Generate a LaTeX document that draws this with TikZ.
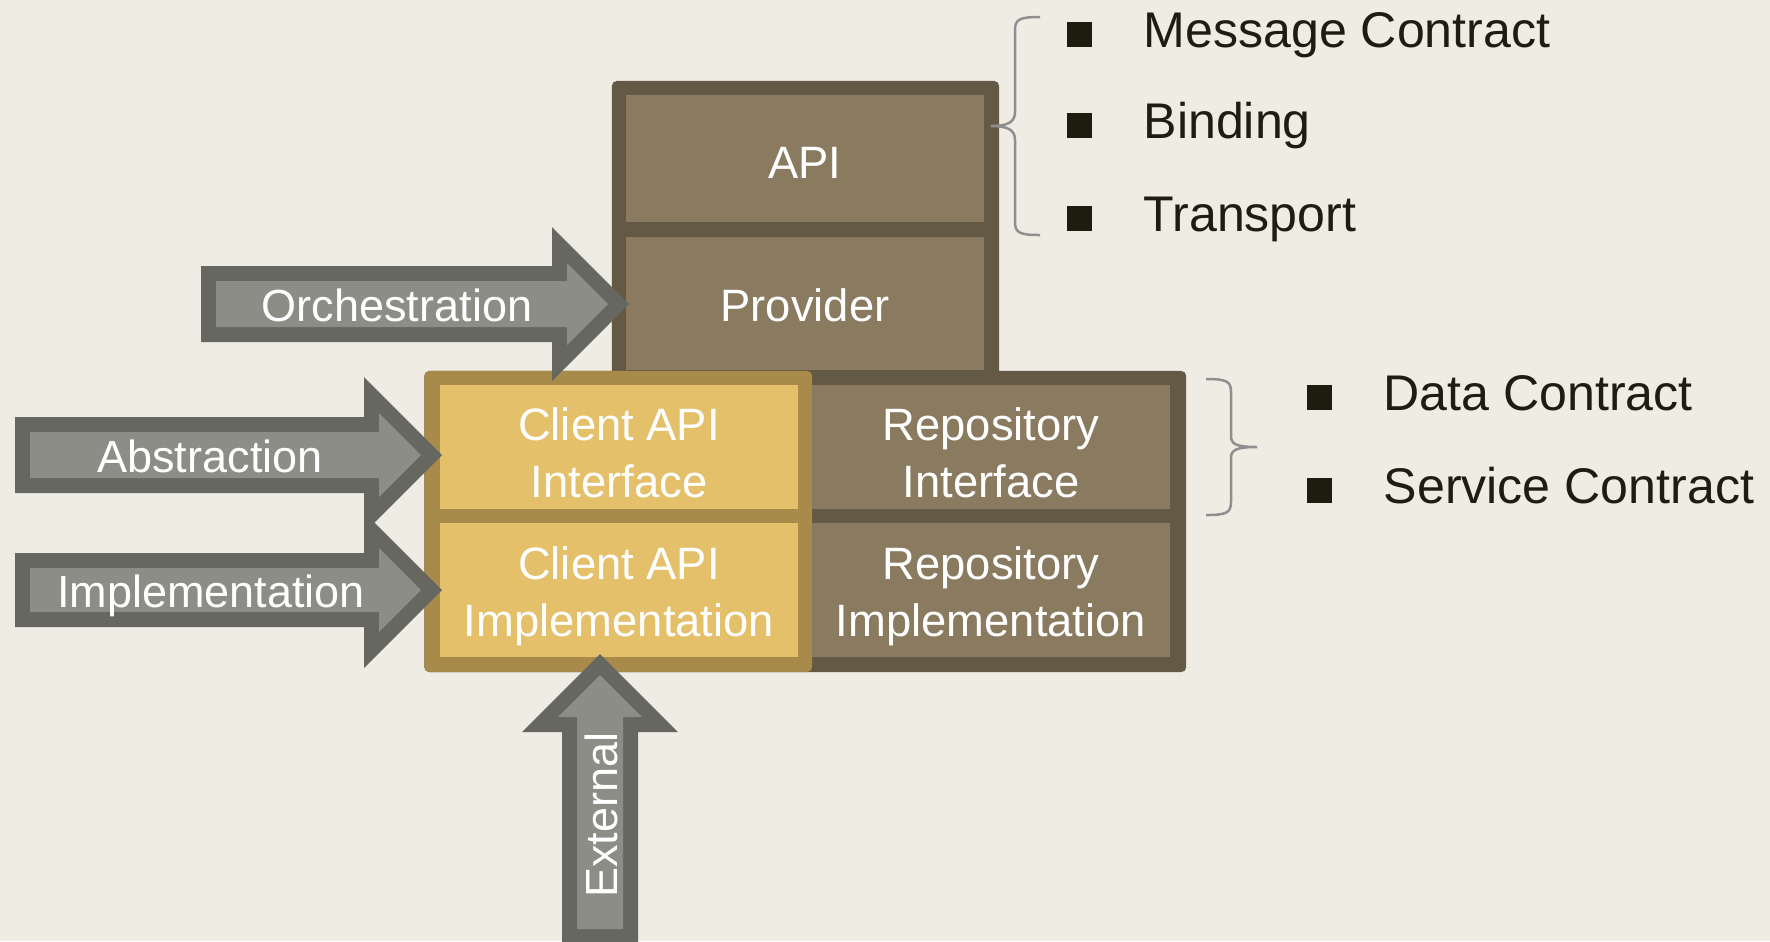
\documentclass[tikz,border=0pt]{standalone}
\usepackage{fontspec}
\setmainfont{Liberation Sans}
\definecolor{bg}{RGB}{239,236,228}
\definecolor{brframe}{RGB}{100,89,69}
\definecolor{brfill}{RGB}{138,123,96}
\definecolor{yfill}{RGB}{228,192,106}
\definecolor{yframe}{RGB}{168,138,74}
\definecolor{arrfill}{RGB}{140,141,134}
\definecolor{arrline}{RGB}{102,103,97}
\definecolor{dark}{RGB}{30,30,16}
\definecolor{bracec}{RGB}{143,143,143}
\begin{document}
\begin{tikzpicture}[x=0.01cm,y=-0.01cm,
  frame/.style={rectangle, inner sep=0pt, outer sep=0pt, rounded corners=0.05cm},
  cellB/.style={rectangle, fill=brfill, inner sep=0pt, outer sep=0pt},
  cellY/.style={rectangle, fill=yfill, inner sep=0pt, outer sep=0pt},
  boxtxt/.style={text=white, align=center, inner sep=0pt, font=\fontsize{12.9pt}{16.22pt}\selectfont},
  arrtxt/.style={text=white, inner sep=0pt, font=\fontsize{12.8pt}{16.22pt}\selectfont},
  arrout/.style={fill=arrline},
  arrin/.style={fill=arrfill},
  bul/.style={rectangle, fill=dark, inner sep=0pt, minimum size=0.25cm},
  btxt/.style={text=dark, inner sep=0pt, anchor=base west, font=\fontsize{14.25pt}{17pt}\selectfont},
  brace/.style={draw=bracec, line width=0.025cm}]
\useasboundingbox (0,0) rectangle (1770,941);
\fill[bg] (0,0) rectangle (1770,941);
\clip (0,0) rectangle (1770,941);

% frames
\node[frame, fill=brframe, minimum width=3.87cm, minimum height=3.00cm] (topframe) at (805.5,231) {};
\node[frame, fill=brframe, minimum width=7.615cm, minimum height=3.01cm] (lowframe) at (805.25,521.5) {};
\node[frame, fill=yframe, minimum width=3.875cm, minimum height=3.01cm] (yframe) at (618.25,521.5) {};

% cells
\node[cellB, minimum width=3.58cm, minimum height=1.27cm] (api) at (805,158.5) {};
\node[cellB, minimum width=3.58cm, minimum height=1.33cm] (prov) at (805,303.5) {};
\node[cellY, minimum width=3.58cm, minimum height=1.24cm] (cint) at (619,447) {};
\node[cellY, minimum width=3.58cm, minimum height=1.34cm] (cimp) at (619,590) {};
\node[cellB, minimum width=3.58cm, minimum height=1.24cm] (rint) at (991,447) {};
\node[cellB, minimum width=3.58cm, minimum height=1.34cm] (rimp) at (991,590) {};

% cell labels
\node[boxtxt] (apiT) at (805,163) {API};
\node[boxtxt] (provT) at (805,305.5) {Provider};
\node[boxtxt] (cintT) at (619,453) {Client API\\Interface};
\node[boxtxt] (cimpT) at (619,596) {Client API\\Implementation};
\node[boxtxt] (rintT) at (991,453) {Repository\\Interface};
\node[boxtxt] (rimpT) at (991,596) {Repository\\Implementation};

% Abstraction arrow
\fill[arrout] (15,417) -- (364,417) -- (364,377) -- (442,455) -- (364,533) -- (364,493) -- (15,493) -- cycle;
\fill[arrin] (30,432) -- (379,432) -- (379,413) -- (421,455) -- (379,497) -- (379,478) -- (30,478) -- cycle;
% Implementation arrow
\fill[arrout] (15,553) -- (364,553) -- (364,512) -- (442,590) -- (364,668) -- (364,627) -- (15,627) -- cycle;
\fill[arrin] (30,568) -- (379,568) -- (379,548) -- (421,590) -- (379,632) -- (379,612) -- (30,612) -- cycle;
% Orchestration arrow
\fill[arrout] (201,266) -- (552,266) -- (552,227) -- (629,304) -- (552,381) -- (552,342) -- (201,342) -- cycle;
\fill[arrin] (216,281) -- (567,281) -- (567,263) -- (608,304) -- (567,345) -- (567,327) -- (216,327) -- cycle;
% External arrow
\fill[arrout] (600,654) -- (678,732) -- (638,732) -- (638,944) -- (562,944) -- (562,732) -- (522,732) -- cycle;
\fill[arrin] (600,675) -- (642,717) -- (623,717) -- (623,929) -- (577,929) -- (577,717) -- (558,717) -- cycle;

% arrow labels
\node[arrtxt] (orchT) at (397,305.5) {Orchestration};
\node[arrtxt] (absT) at (210,456.5) {Abstraction};
\node[arrtxt] (implT) at (211,596) {Implementation};
\node[arrtxt, rotate=90] (extT) at (601,815) {External};

% braces
\draw[brace] (1040,17) .. controls (1020,17) and (1015,19) .. (1015,30) -- (1015,112)
  .. controls (1015,122) and (1008,126) .. (991,126)
  .. controls (1008,126) and (1015,130) .. (1015,140) -- (1015,222)
  .. controls (1015,233) and (1020,235) .. (1040,235);
\draw[brace] (1206,379) .. controls (1226,379) and (1231,381) .. (1231,392) -- (1231,436)
  .. controls (1231,444) and (1236,447) .. (1257,447)
  .. controls (1236,447) and (1231,450) .. (1231,458) -- (1231,502)
  .. controls (1231,513) and (1226,515) .. (1206,515);

% bullets
\node[bul] (b1) at (1079.5,34.5) {};
\node[bul] (b2) at (1079.5,125.5) {};
\node[bul] (b3) at (1079.5,218.5) {};
\node[bul] (b4) at (1319.5,397.5) {};
\node[bul] (b5) at (1319.5,490.5) {};

% bullet texts
\node[btxt] (t1) at (1143,47) {Message Contract};
\node[btxt] (t2) at (1143,138) {Binding};
\node[btxt] (t3) at (1143,231) {Transport};
\node[btxt] (t4) at (1383,410) {Data Contract};
\node[btxt] (t5) at (1383,503) {Service Contract};
\end{tikzpicture}
\end{document}
